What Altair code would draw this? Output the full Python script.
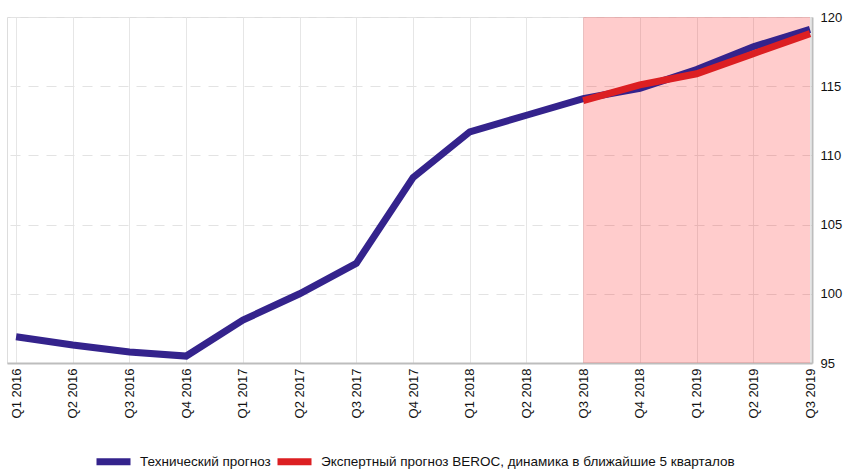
import altair as alt
import pandas as pd

# Quarter labels along the x axis
quarters = [
    "Q1 2016", "Q2 2016", "Q3 2016", "Q4 2016",
    "Q1 2017", "Q2 2017", "Q3 2017", "Q4 2017",
    "Q1 2018", "Q2 2018", "Q3 2018", "Q4 2018",
    "Q1 2019", "Q2 2019", "Q3 2019",
]

# Series names
tech_name = "Технический прогноз"
expert_name = "Экспертный прогноз BEROC, динамика в ближайшие 5 кварталов"

# Technical forecast, all quarters
tech_values = [96.9, 96.3, 95.8, 95.5, 98.1, 100.0, 102.2, 108.4,
               111.7, 112.9, 114.1, 114.85, 116.2, 117.85, 119.1]

# Expert forecast, last five quarters (Q3 2018 - Q3 2019)
expert_start = 10
expert_values = [113.95, 115.1, 115.9, 117.35, 118.8]

# Shaded forecast window
window_start = 10
window_end = 14

y_ticks = [95, 100, 105, 110, 115, 120]

FONT = "Liberation Sans"
BLUE = "#34238c"
RED = "#dc1f22"

rows = []
for i, v in enumerate(tech_values):
    rows.append({"series": tech_name, "idx": i, "value": v})
for k, v in enumerate(expert_values):
    rows.append({"series": expert_name, "idx": expert_start + k, "value": v})
lines_df = pd.DataFrame(rows)

window_df = pd.DataFrame([{"x": window_start, "x2": window_end,
                           "y": y_ticks[-1], "y2": y_ticks[0]}])

label_array = "[" + ",".join(f"'{q}'" for q in quarters) + "]"

x_scale = alt.Scale(domain=[-0.16, 14.035], nice=False, zero=False)
y_scale = alt.Scale(domain=[95, 120], nice=False, zero=False)

x_axis = alt.Axis(
    values=list(range(len(quarters))),
    labelExpr=f"{label_array}[round(datum.value)]",
    labelAngle=270,
    labelFontSize=13,
    labelFont=FONT,
    labelColor="#111111",
    labelPadding=5,
    ticks=False,
    domainColor="#bdbdbd",
    domainWidth=2,
    grid=True,
    gridColor="#e6e6e6",
    gridWidth=1,
    title=None,
)

y_axis = alt.Axis(
    orient="right",
    values=y_ticks,
    labelFontSize=13,
    labelFont=FONT,
    labelColor="#111111",
    labelPadding=8,
    ticks=False,
    domainColor="#bdbdbd",
    domainWidth=2,
    grid=True,
    gridColor="#e3e3e3",
    gridDash=[10, 8],
    gridWidth=1,
    title=None,
)

window = alt.Chart(window_df).mark_rect(color="#ff0000", opacity=0.2).encode(
    x=alt.X("x:Q", scale=x_scale, axis=x_axis),
    x2="x2:Q",
    y=alt.Y("y:Q", scale=y_scale, axis=y_axis),
    y2="y2:Q",
)

lines = alt.Chart(lines_df).mark_line(strokeWidth=7, strokeCap="butt").encode(
    x=alt.X("idx:Q", scale=x_scale),
    y=alt.Y("value:Q", scale=y_scale),
    color=alt.Color(
        "series:N",
        scale=alt.Scale(domain=[tech_name, expert_name], range=[BLUE, RED]),
        legend=alt.Legend(
            title=None,
            orient="none",
            direction="horizontal",
            legendX=86,
            legendY=424,
            symbolType="stroke",
            symbolSize=1156,
            symbolStrokeWidth=7,
            labelFontSize=13.5,
            labelFont=FONT,
            labelColor="#111111",
            labelLimit=0,
            labelOffset=6,
            columnPadding=-8,
        ),
    ),
    order=alt.Order("idx:Q"),
)

chart = (
    alt.layer(window, lines)
    .properties(
        width=805,
        height=346,
        padding={"left": 7, "top": 17, "right": 35, "bottom": 107},
        autosize=alt.AutoSizeParams(type="none"),
    )
    .configure_view(stroke=None)
    .configure(background="white")
)

chart.save("out.html", embed_options={"renderer": "svg", "actions": False})
